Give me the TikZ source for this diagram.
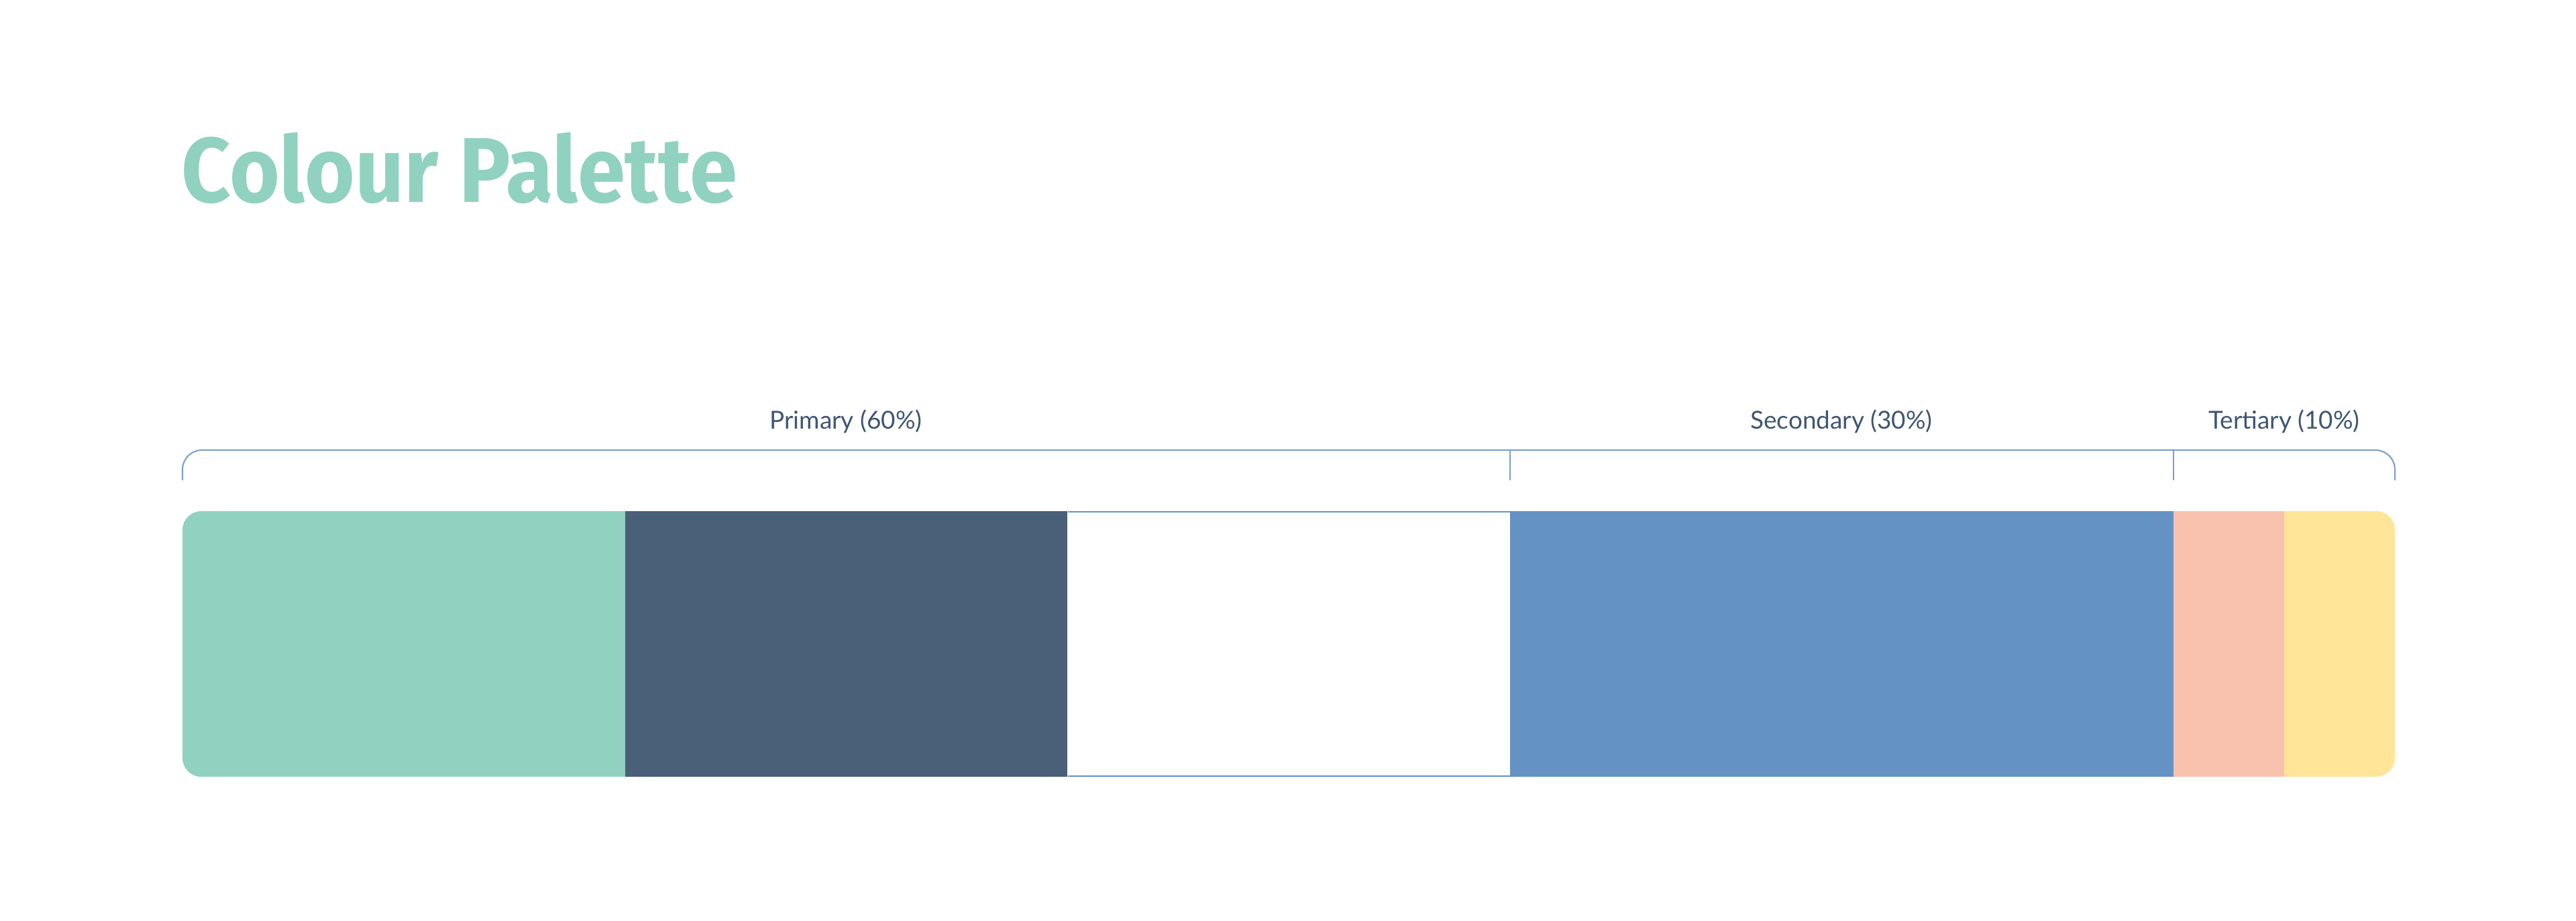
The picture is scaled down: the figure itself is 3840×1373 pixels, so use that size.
\documentclass[tikz,border=0pt]{standalone}
\usepackage{fontspec}
\setmainfont{Lato}
\newfontfamily\titlefont{Fira Sans}
\usepackage{xcolor}
\usepackage{tikz}
\usetikzlibrary{positioning}
\definecolor{palTeal}{RGB}{145, 209, 192}
\definecolor{palSlate}{RGB}{74, 95, 120}
\definecolor{palWhite}{RGB}{255, 255, 255}
\definecolor{palBlue}{RGB}{101, 146, 196}
\definecolor{palPeach}{RGB}{248, 194, 175}
\definecolor{palYellow}{RGB}{254, 229, 151}
\definecolor{bracketBlue}{RGB}{122, 160, 204}
\definecolor{labelText}{RGB}{63, 85, 115}

\begin{document}
\begin{tikzpicture}[x=0.01cm, y=-0.01cm,
    bracket/.style={draw=bracketBlue, line width=0.6pt},
    grouplabel/.style={anchor=base, text=labelText, font=\fontsize{10.5}{12}\selectfont}]
    \useasboundingbox (0,0) rectangle (3840,1373);
    \node[anchor=base west, inner sep=0pt, text=palTeal,
        font=\titlefont\bfseries\fontsize{39}{44}\selectfont] (title) at (270,301) {\scalebox{0.935}[1]{Colour Palette}};
    % bracket over the groups
    \draw[bracket, rounded corners=0.29cm] (272,716) |- (3570,671) -- (3570,716);
    \draw[bracket] (2251,671) -- (2251,716);
    \draw[bracket] (3240,671) -- (3240,716);
    \node[grouplabel] (primary) at (1261,639) {Primary (60\%)};
    \node[grouplabel] (secondary) at (2745,639) {Secondary (30\%)};
    \node[grouplabel] (tertiary) at (3405,639) {Tertiary (10\%)};
    % colour bar
    \begin{scope}
        \clip[rounded corners=0.28cm] (272,762) rectangle (3570,1158);
        \foreach \from/\to/\col in {
            0/20/palTeal, 20/40/palSlate, 40/60/palWhite,
            60/90/palBlue, 90/95/palPeach, 95/100/palYellow} {
            \pgfmathsetmacro{\xa}{272+\from*32.98}
            \pgfmathsetmacro{\xb}{272+\to*32.98}
            \fill[\col] (\xa,762) rectangle (\xb,1158);
        }
    \end{scope}
    \draw[palBlue, line width=0.5pt] (1592,763) -- (2251,763);
    \draw[palBlue, line width=0.5pt] (1592,1157) -- (2251,1157);
\end{tikzpicture}
\end{document}
